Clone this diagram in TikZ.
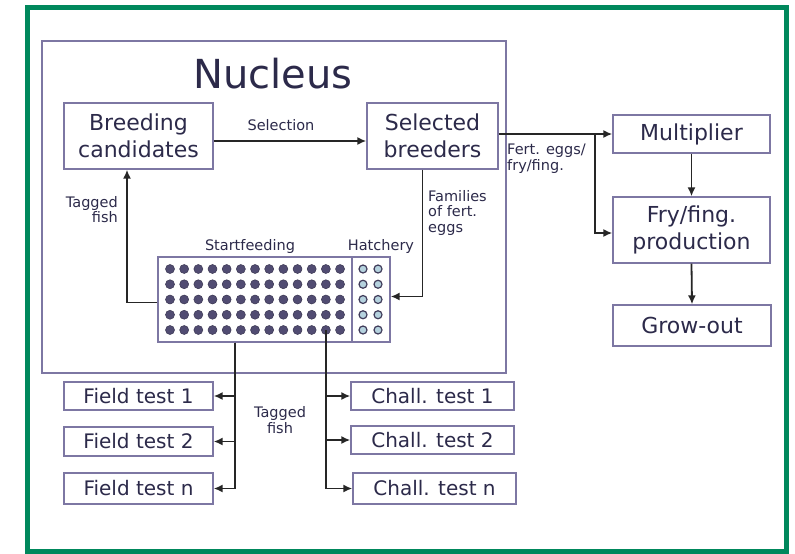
\documentclass[tikz,border=0pt]{standalone}
\usepackage{fontspec}
\setmainfont{DejaVu Sans}
\usetikzlibrary{arrows.meta,positioning,calc}
\definecolor{FrameGreen}{HTML}{00885C}
\definecolor{BoxLine}{HTML}{7D77A3}
\definecolor{Ink}{HTML}{2C2A4A}
\definecolor{DotDark}{HTML}{514C72}
\definecolor{DotPale}{HTML}{B5D2DE}
\tikzset{
  flow/.style={-{Latex[length=9pt,width=8pt]}, line width=1.8pt, draw=black!85},
  box/.style={draw=BoxLine, line width=1.3pt, fill=white, align=center, inner sep=0pt,
              text=Ink, font=\fontsize{22}{27}\selectfont},
  testbox/.style={box, font=\fontsize{20}{24}\selectfont},
  lbl/.style={text=Ink, inner sep=0pt, font=\fontsize{14.5}{15.5}\selectfont},
  sfdot/.style={circle, fill=DotDark, draw=DotDark!70!black, line width=0.5pt,
                minimum size=9pt, inner sep=0pt},
  hdot/.style={circle, fill=DotPale, draw=DotDark!80!black, line width=1.2pt,
               minimum size=8pt, inner sep=0pt},
}
\begin{document}
\begin{tikzpicture}[x=1pt,y=-1pt]
  \useasboundingbox (0,0) rectangle (795,554);
  \fill[white] (0,0) rectangle (795,554);
  \draw[FrameGreen, line width=5pt] (27.5,7.5) rectangle (786,551);

  % nucleus
  \node[box, minimum width=464pt, minimum height=332pt] (nuc) at (274,207) {};
  \node[text=Ink, inner sep=0pt, font=\fontsize{40}{44}\selectfont, anchor=base] (nuclbl) at (273,88) {Nucleus};
  \node[box, minimum width=149pt, minimum height=66pt] (bc) at (138.5,136) {Breeding\\candidates};
  \node[box, minimum width=131pt, minimum height=66pt] (sb) at (432.5,136) {Selected\\breeders};

  % tanks
  \node[box, minimum width=194pt, minimum height=85pt] (sf) at (255,299.5) {};
  \node[box, minimum width=38pt, minimum height=85pt] (hat) at (371,299.5) {};
  \foreach \i in {1,...,13}
    \foreach \j in {1,...,5}
      \node[sfdot] (dot-\i-\j) at ({170+(\i-1)*14.17},{269+(\j-1)*15.25}) {};
  \foreach \i/\x in {1/363,2/378}
    \foreach \j in {1,...,5}
      \node[hdot] (hd-\i-\j) at (\x,{269+(\j-1)*15.25}) {};
  \node[lbl, anchor=base] (sflbl) at (250,250) {Startfeeding};
  \node[lbl, anchor=base] (hatlbl) at (381,250) {Hatchery};

  % production chain
  \node[box, minimum width=157pt, minimum height=38pt] (mult) at (691.5,134) {Multiplier};
  \node[box, minimum width=157pt, minimum height=66pt] (fry) at (691.5,230) {Fry/fing.\\production};
  \node[box, minimum width=158pt, minimum height=41pt] (grow) at (692,325.5) {Grow-out};

  % tests
  \node[testbox, minimum width=149pt, minimum height=28pt] (ft1) at (138.5,396) {Field test 1};
  \node[testbox, minimum width=149pt, minimum height=29pt] (ft2) at (138.5,441.5) {Field test 2};
  \node[testbox, minimum width=149pt, minimum height=31pt] (ftn) at (138.5,488.5) {Field test n};
  \node[testbox, minimum width=163pt, minimum height=28pt] (ct1) at (432.5,396) {Chall. test 1};
  \node[testbox, minimum width=163pt, minimum height=28pt] (ct2) at (432.5,440) {Chall. test 2};
  \node[testbox, minimum width=163pt, minimum height=31pt] (ctn) at (434.5,488.5) {Chall. test n};

  % labels
  \node[lbl, anchor=base] (sel) at (281,130) {Selection};
  \node[lbl, anchor=north west, align=left] (fertlbl) at (507,144) {Fert. eggs/\\fry/fing.};
  \node[lbl, anchor=north west, align=left] (famlbl) at (428,190) {Families\\of fert.\\eggs};
  \node[lbl, anchor=north east, align=right] (tag1) at (118,196) {Tagged\\fish};
  \node[lbl, align=center] (tag2) at (280,420) {Tagged\\fish};

  % connectors
  \coordinate (br) at (595,134);
  \draw[flow] ([yshift=-5pt]bc.east) -- ([yshift=-5pt]sb.west);
  \draw[flow] (mult.west -| sb.east) -- (mult.west);
  \draw[flow] (br) |- ([yshift=-3pt]fry.west);
  \draw[flow] (mult.south) -- (fry.north);
  \draw[flow] (fry.south) -- (grow.north);
  \draw[flow] ([xshift=-10pt]sb.south) |- ([yshift=3pt]hat.east);
  \draw[flow] ([yshift=-3pt]sf.west) -| ([xshift=-11.5pt]bc.south);
  \foreach \t in {ft1,ft2,ftn}
    \draw[flow] ([xshift=-20pt]sf.south) |- (\t.east);
  \foreach \t in {ct1,ct2,ctn}
    \draw[flow] (dot-12-5.center) |- (\t.west);
\end{tikzpicture}
\end{document}
